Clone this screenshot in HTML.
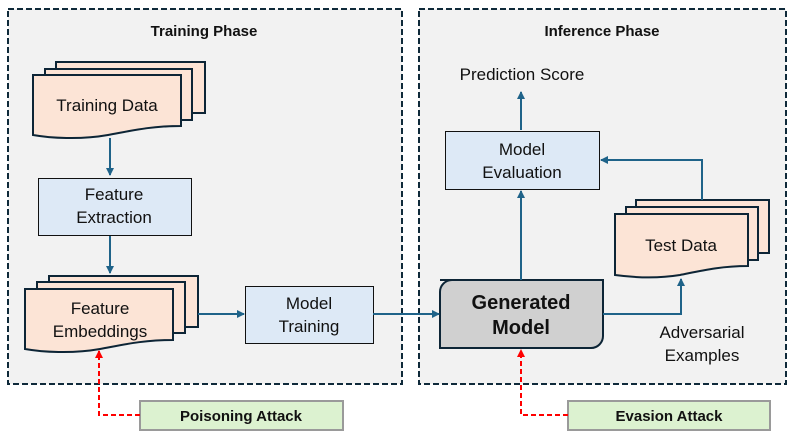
<!DOCTYPE html>
<html><head><meta charset="utf-8"><style>
html,body{margin:0;padding:0;background:#fff;}
svg{display:block;font-family:"Liberation Sans",sans-serif;}
</style></head><body>
<svg width="796" height="444" viewBox="0 0 796 444" xmlns="http://www.w3.org/2000/svg">
<defs>
<marker id="a" markerWidth="8" markerHeight="8" refX="7" refY="4" orient="auto" markerUnits="userSpaceOnUse"><path d="M0,0 L8,4 L0,8 Z" fill="#1f6389"/></marker>
<marker id="r" markerWidth="8" markerHeight="8" refX="7" refY="4" orient="auto" markerUnits="userSpaceOnUse"><path d="M0,0 L8,4 L0,8 Z" fill="#ff0000"/></marker>
</defs>
<rect x="8" y="9" width="394" height="375" fill="#f2f2f2" stroke="#0f2a3a" stroke-width="2" stroke-dasharray="6,3"/>
<rect x="419" y="9" width="367" height="375" fill="#f2f2f2" stroke="#0f2a3a" stroke-width="2" stroke-dasharray="6,3"/>
<text x="204" y="36" font-size="15" font-weight="bold" text-anchor="middle" fill="#111">Training Phase</text>
<text x="602" y="36" font-size="15" font-weight="bold" text-anchor="middle" fill="#111">Inference Phase</text>

<g fill="#fce4d6" stroke="#0d2536" stroke-width="2">
<rect x="56" y="62" width="149" height="51"/>
<rect x="45" y="69" width="147" height="51"/>
<path d="M33,75 H181 V126 C150,126 130,131 108,135 C80,140 50,138 33,135 Z"/>
<rect x="49" y="276" width="149" height="51"/>
<rect x="37" y="282" width="148" height="51"/>
<path d="M25,289 H173 V340 C142,340 122,345 100,349 C72,354 42,352 25,349 Z"/>
<rect x="636" y="200" width="133" height="53"/>
<rect x="626" y="207" width="132" height="53"/>
<path d="M615,214 H748 V266 C720,266 700,271 680,275 C655,279 630,277 615,275 Z"/>
</g>
<g font-size="17" fill="#111" text-anchor="middle">
<text x="107" y="111">Training Data</text>
<text x="100" y="314">Feature</text>
<text x="100" y="337">Embeddings</text>
<text x="681" y="251">Test Data</text>
</g>

<g fill="#dde9f6" stroke="#111" stroke-width="1">
<rect x="38.5" y="178.5" width="153" height="57"/>
<rect x="245.5" y="286.5" width="128" height="57"/>
<rect x="445.5" y="131.5" width="154" height="58"/>
</g>
<g font-size="17" fill="#111" text-anchor="middle">
<text x="114" y="200">Feature</text>
<text x="114" y="223">Extraction</text>
<text x="309" y="309">Model</text>
<text x="309" y="332">Training</text>
<text x="522" y="155">Model</text>
<text x="522" y="178">Evaluation</text>
<text x="522" y="80">Prediction Score</text>
<text x="702" y="338">Adversarial</text>
<text x="702" y="361">Examples</text>
</g>

<path d="M440,280 H603 V336 A12,12 0 0 1 591,348 H440 V292 A12,12 0 0 1 452,280 Z" fill="#d0d0d0" stroke="#0d2536" stroke-width="2"/>
<g font-size="20" font-weight="bold" fill="#111" text-anchor="middle">
<text x="521" y="309">Generated</text>
<text x="521" y="334">Model</text>
</g>

<g stroke="#1f6389" stroke-width="2" fill="none" marker-end="url(#a)">
<path d="M110,138 V175"/>
<path d="M110,236 V273"/>
<path d="M198,314 H244"/>
<path d="M373,314 H439"/>
<path d="M521,280 V191"/>
<path d="M521,130 V92"/>
<path d="M702,200 V160 H601"/>
<path d="M603,314 H681 V279"/>
</g>

<rect x="140" y="401" width="203" height="29" fill="#dcf2d0" stroke="#9a9a9a" stroke-width="2"/>
<rect x="568" y="401" width="202" height="29" fill="#dcf2d0" stroke="#9a9a9a" stroke-width="2"/>
<text x="241" y="421" font-size="15" font-weight="bold" text-anchor="middle" fill="#111">Poisoning Attack</text>
<text x="669" y="421" font-size="15" font-weight="bold" text-anchor="middle" fill="#111">Evasion Attack</text>
<g stroke="#ff0000" stroke-width="2" fill="none" stroke-dasharray="5,3" marker-end="url(#r)">
<path d="M140,415 H99 V351"/>
<path d="M568,415 H521 V350"/>
</g>
</svg>
</body></html>
